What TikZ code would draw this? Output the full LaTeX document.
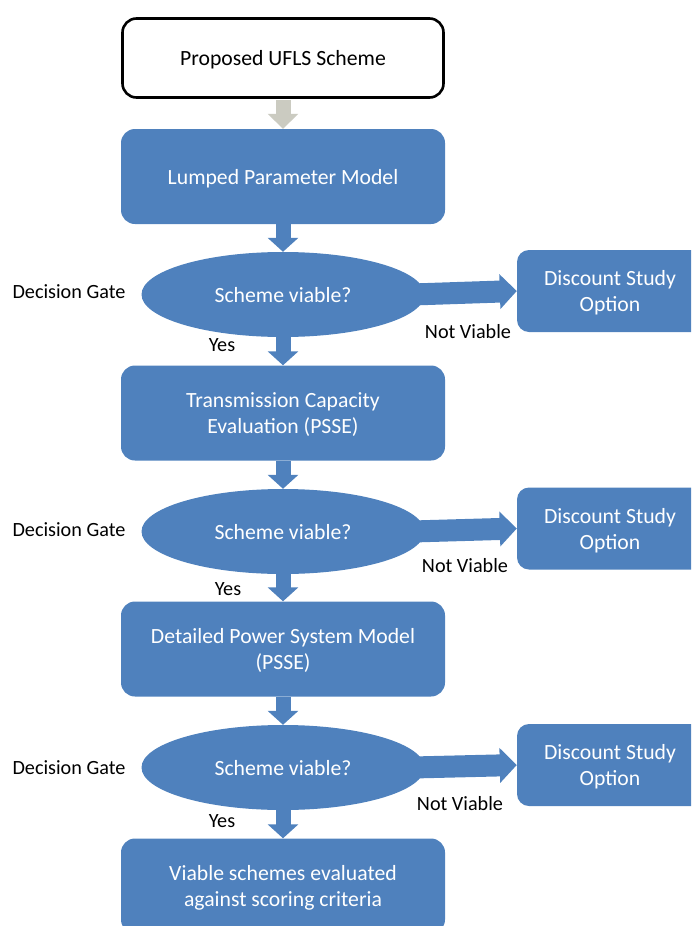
\documentclass[tikz,border=0pt]{standalone}
\usepackage{fontspec}
\setmainfont{Carlito}
\usetikzlibrary{shapes.geometric,arrows.meta}
\definecolor{ublue}{HTML}{4F81BD}
\definecolor{ugrey}{HTML}{CBCBC1}
\begin{document}
\begin{tikzpicture}[x=1pt,y=-1pt,
  font=\fontsize{21.7}{26}\selectfont,
  bluebox/.style={rectangle,rounded corners=14pt,fill=ublue,text=white,align=center,minimum width=324pt,minimum height=95pt,inner sep=0pt,text depth=0pt},
  whitebox/.style={rectangle,rounded corners=14pt,draw=black,line width=2.6pt,fill=white,align=center,minimum width=321pt,minimum height=79pt,inner sep=0pt,text depth=0pt},
  gate/.style={ellipse,fill=ublue,text=white,minimum width=283pt,minimum height=85pt,inner sep=0pt,text depth=0pt},
  discbox/.style={rectangle,rounded corners=12pt,fill=ublue,text=white,align=center,minimum width=186pt,minimum height=82pt,inner sep=0pt,text depth=0pt},
  lbl/.style={text=black,inner sep=0pt,font=\fontsize{20.2}{24}\selectfont},
  downarrow/.style={draw=ublue,line width=15pt,-{Triangle[width=30pt,length=14pt]}},
  greyarrow/.style={draw=ugrey,line width=15pt,-{Triangle[width=30pt,length=15pt]}},
  rightarrow/.style={draw=ublue,line width=22pt,-{Triangle[width=34pt,length=17pt]}}
]
\path[use as bounding box] (0,0) rectangle (691,926);
\clip (0,0) rectangle (691,926);

\node[whitebox] (p) at (283,58) {Proposed UFLS Scheme};
\node[bluebox] (b1) at (283,176.5) {Lumped Parameter Model};
\node[gate] (e1) at (283,294.5) {Scheme viable?};
\node[discbox] (d1) at (610,291) {Discount Study\\Option};
\node[bluebox] (b2) at (283,413) {Transmission Capacity\\Evaluation (PSSE)};
\node[gate] (e2) at (283,531.5) {Scheme viable?};
\node[discbox] (d2) at (610,528.5) {Discount Study\\Option};
\node[bluebox] (b3) at (283,649) {Detailed Power System Model\\(PSSE)};
\node[gate] (e3) at (283,767.5) {Scheme viable?};
\node[discbox] (d3) at (610,765) {Discount Study\\Option};
\node[bluebox] (b4) at (283,886) {Viable schemes evaluated\\against scoring criteria};

\node[lbl] (g1) at (69,292) {Decision Gate};
\node[lbl] (g2) at (69,530) {Decision Gate};
\node[lbl] (g3) at (69,768) {Decision Gate};
\node[lbl] (y1) at (222,345) {Yes};
\node[lbl] (y2) at (228,589) {Yes};
\node[lbl] (y3) at (222,821) {Yes};
\node[lbl] (n1) at (468,332) {Not Viable};
\node[lbl] (n2) at (465,566) {Not Viable};
\node[lbl] (n3) at (460,804) {Not Viable};

\draw[greyarrow] ([yshift=-1.5pt]p.south) -- (b1.north);
\draw[downarrow] (b1.south) -- (e1.north);
\draw[downarrow] (e1.south) -- (b2.north);
\draw[downarrow] (b2.south) -- (e2.north);
\draw[downarrow] (e2.south) -- (b3.north);
\draw[downarrow] (b3.south) -- (e3.north);
\draw[downarrow] (e3.south) -- (b4.north);
\draw[rightarrow] ([xshift=-12pt]e1.east) -- (d1.west);
\draw[rightarrow] ([xshift=-12pt]e2.east) -- (d2.west);
\draw[rightarrow] ([xshift=-12pt]e3.east) -- (d3.west);
\end{tikzpicture}
\end{document}
